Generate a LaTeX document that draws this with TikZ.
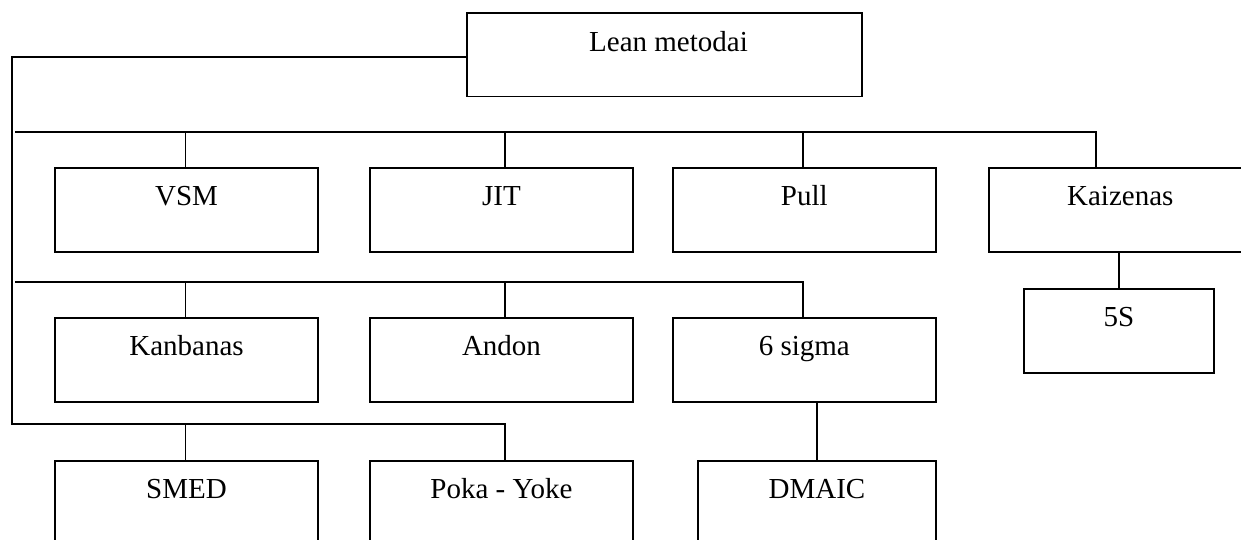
\documentclass[tikz,border=0pt]{standalone}
\usepackage{fontspec}
\setmainfont{Liberation Serif}
\begin{document}
\begin{tikzpicture}[x=0.5pt,y=-0.5pt,
  line width=0.8pt,
  box/.style={draw, rectangle, inner xsep=0pt, inner ysep=0pt,
    minimum width=131.5pt, text height=19pt, text depth=23pt,
    font=\fontsize{14.5pt}{17pt}\selectfont},
  link/.style={draw}]
\useasboundingbox (0,0) rectangle (1241,540);
\begin{scope}
\clip (0,0) rectangle (1241,540);

% top node
\node[box, minimum width=197.5pt, text depth=22.7pt] (lean) at (664.5,55) {\hspace*{4pt}Lean metodai};

% first row
\node[box] (vsm)  at (186.5,209.7) {VSM};
\node[box] (jit)  at (501.5,209.7) {JIT};
\node[box] (pull) at (804.3,209.7) {Pull};
\node[box] (kaiz) at (1120.3,209.7) {Kaizenas};

% second row
\node[box] (kanb)  at (186.5,359.7) {Kanbanas};
\node[box] (andon) at (501.5,359.7) {Andon};
\node[box] (sigma) at (804.3,359.7) {6 sigma};
\node[box, minimum width=95pt] (s5) at (1119,330.7) {5S};

% third row
\node[box] (smed) at (186.5,502.7) {SMED};
\node[box] (poka) at (501.5,502.7) {Poka - Yoke};
\node[box, minimum width=119pt] (dmaic) at (817,502.7) {DMAIC};

% trunk and buses
\coordinate (trunkT) at (12,57);
\coordinate (trunkB) at (12,424);
\coordinate (bus1s) at (15,132);
\coordinate (bus1e) at (1096,132);
\coordinate (bus2s) at (15,281.7);
\coordinate (bus2e) at (802.7,281.7);
\coordinate (bus3e) at (505,424);
\coordinate (d1jit) at (505,132);
\coordinate (d1pull) at (802.7,132);
\coordinate (d2andon) at (505,281.7);
\coordinate (d2vsm) at (185.5,132);
\coordinate (d2kanb) at (185.5,281.7);
\coordinate (d3smed) at (185.5,424);

\draw[link] (lean.west |- trunkT) -- (trunkT) -- (trunkB) -- (bus3e) -- (bus3e |- poka.north);
\draw[link] (d3smed) -- (d3smed |- smed.north);

\draw[link] (bus1s) -- (bus1e) -- (bus1e |- kaiz.north);
\draw[link] (d2vsm) -- (d2vsm |- vsm.north);
\draw[link] (d1jit) -- (d1jit |- jit.north);
\draw[link] (d1pull) -- (d1pull |- pull.north);

\draw[link] (bus2s) -- (bus2e) -- (bus2e |- sigma.north);
\draw[link] (d2kanb) -- (d2kanb |- kanb.north);
\draw[link] (d2andon) -- (d2andon |- andon.north);

\draw[link] (kaiz.south -| s5.north) -- (s5.north);
\draw[link] (dmaic.north |- sigma.south) -- (dmaic.north);
\end{scope}
\end{tikzpicture}
\end{document}
